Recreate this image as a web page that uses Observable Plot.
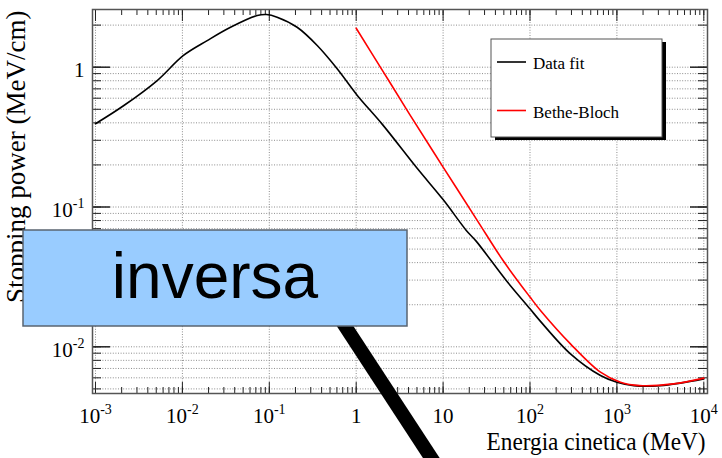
<!DOCTYPE html>
<html>
<head>
<meta charset="utf-8">
<script src="https://cdn.jsdelivr.net/npm/d3@7"></script>
<script src="https://cdn.jsdelivr.net/npm/@observablehq/plot@0.6"></script>
<style>
  html, body { margin: 0; padding: 0; background: #ffffff; }
  #chart { width: 722px; height: 458px; }
</style>
</head>
<body>
<div id="chart"></div>
<script>
// ---- Data ----
const fitEnergy = [0.001, 0.00212, 0.00513, 0.0102, 0.0193, 0.0358, 0.0726, 0.0929, 0.123, 0.209, 0.356, 0.604, 1.03, 2, 5, 10, 18.5, 24, 53.3, 100, 132, 292, 647, 1000, 1567, 3160, 5370, 10000];
const fitPower  = [0.394, 0.532, 0.803, 1.21, 1.55, 1.93, 2.34, 2.38, 2.28, 1.93, 1.43, 0.975, 0.628, 0.39, 0.19, 0.113, 0.068, 0.057, 0.0298, 0.0187, 0.0152, 0.0089, 0.00623, 0.00558, 0.00528, 0.00528, 0.0055, 0.0059];

const betheEnergy = [1, 2, 4.12, 10, 25.1, 49, 100, 132, 292, 647, 1100, 1820, 4470, 10000];
const bethePower  = [1.9, 0.95, 0.46, 0.193, 0.079, 0.0414, 0.0227, 0.0182, 0.0105, 0.00658, 0.00558, 0.00528, 0.00543, 0.00597];

const xMajor = [1e-3, 1e-2, 1e-1, 1, 10, 100, 1000, 10000];
const xTickLabels = ["10^-3", "10^-2", "10^-1", "1", "10", "10^2", "10^3", "10^4"];
const yMajor = [0.01, 0.1, 1];
const yTickLabels = ["10^-2", "10^-1", "1"];

const seriesNames = ["Data fit", "Bethe-Bloch"];
const seriesColors = ["#000000", "#ff0000"];

const xTitle = "Energia cinetica (MeV)";
const yTitle = "Stopping power (MeV/cm)";
const noteLabel = "inversa";

// ---- Build tables ----
const fitData = fitEnergy.map((e, i) => ({E: e, S: fitPower[i]}));
const betheData = betheEnergy.map((e, i) => ({E: e, S: bethePower[i]}));
const xTickData = xMajor.map((v, i) => ({v, label: xTickLabels[i]}));
const yTickData = yMajor.map((v, i) => ({v, label: yTickLabels[i]}));

const xDomain = [10 ** -3.0345, 10 ** 4.0426];
const yDomain = [10 ** -2.334, 10 ** 0.4127];

function logSubticks(domain) {
  const out = [];
  const e0 = Math.floor(Math.log10(domain[0])), e1 = Math.ceil(Math.log10(domain[1]));
  for (let e = e0; e <= e1; e++) {
    for (let m = 1; m <= 9; m++) {
      const v = m * Math.pow(10, e);
      if (v >= domain[0] && v <= domain[1]) out.push(v);
    }
  }
  return out;
}
const xAll = logSubticks(xDomain);
const yAll = logSubticks(yDomain);

const W = 722, H = 458;
const mL = 92, mR = 15, mT = 9, mB = 65;
const FW = W - mL - mR, FH = H - mT - mB;

const grid = {stroke: "#8c8c8c", strokeWidth: 1, strokeDasharray: "1,1.6"};
const tk = {stroke: "#222222", strokeWidth: 1};

const svg = Plot.plot({
  width: W, height: H,
  marginLeft: mL, marginRight: mR, marginTop: mT, marginBottom: mB,
  style: {fontFamily: "'Liberation Serif', 'Times New Roman', serif", fontSize: "21px", background: "#ffffff", color: "#000"},
  x: {type: "log", domain: xDomain, axis: null},
  y: {type: "log", domain: yDomain, axis: null},
  marks: [
    Plot.ruleX(xMajor, {...grid}),
    Plot.ruleY(yAll, {...grid}),
    // x ticks (bottom & top, inward)
    Plot.ruleX(xAll, {...tk, insetTop: FH - 6}),
    Plot.ruleX(xAll, {...tk, insetBottom: FH - 6}),
    Plot.ruleX(xMajor, {...tk, insetTop: FH - 11}),
    Plot.ruleX(xMajor, {...tk, insetBottom: FH - 12}),
    // y ticks (left & right, inward)
    Plot.ruleY(yAll, {...tk, insetRight: FW - 9}),
    Plot.ruleY(yAll, {...tk, insetLeft: FW - 9}),
    Plot.ruleY(yMajor, {...tk, strokeWidth: 1.5, insetRight: FW - 18}),
    Plot.ruleY(yMajor, {...tk, strokeWidth: 1.5, insetLeft: FW - 17}),
    // curves
    Plot.line(fitData, {x: "E", y: "S", stroke: seriesColors[0], strokeWidth: 1.6, curve: "catmull-rom"}),
    Plot.line(betheData, {x: "E", y: "S", stroke: seriesColors[1], strokeWidth: 1.6, curve: "catmull-rom"}),
    Plot.frame({stroke: "#555555", strokeWidth: 1.5}),
    // tick labels
    Plot.text(xTickData, {x: "v", text: "label", frameAnchor: "bottom", lineAnchor: "bottom", dy: 29, fontSize: 21, className: "suplabel"}),
    Plot.text(yTickData, {y: "v", text: "label", frameAnchor: "left", textAnchor: "end", dx: -8, dy: 3, fontSize: 21, className: "suplabel"}),
    // axis titles
    Plot.text([xTitle], {frameAnchor: "bottom-right", textAnchor: "end", lineAnchor: "bottom", dx: -2, dy: 56, fontSize: 25, className: "xtitle"}),
    Plot.text([yTitle], {frameAnchor: "top-left", rotate: -90, textAnchor: "end", lineAnchor: "bottom", dx: -68, dy: 1, fontSize: 27, className: "ytitle"})
  ]
});

document.getElementById("chart").appendChild(svg);

// superscript exponents in tick labels
d3.select(svg).selectAll(".suplabel text").each(function () {
  const s = this.textContent;
  const parts = s.split("^");
  if (parts.length < 2) return;
  const t = d3.select(this);
  t.text("");
  t.append("tspan").text(parts[0]);
  t.append("tspan").attr("dy", -9).attr("font-size", "14px").text(parts[1]);
});

// condensed x-axis title
d3.select(svg).selectAll(".xtitle text").each(function () {
  const tr = this.getAttribute("transform") || "";
  this.setAttribute("transform", tr + " scale(0.93,1)");
});

// ---- Legend ----
const root = d3.select(svg);
const lg = root.append("g").attr("class", "legend").attr("text-anchor", "start");
const lx = 491, ly = 39, lw = 171, lh = 98;
lg.append("rect").attr("x", lx + 4).attr("y", ly + 3).attr("width", lw).attr("height", lh).attr("fill", "#000");
lg.append("rect").attr("x", lx).attr("y", ly).attr("width", lw).attr("height", lh).attr("fill", "#fff").attr("stroke", "#555").attr("stroke-width", 1);
seriesNames.forEach((name, i) => {
  const yy = ly + 23 + i * 48.5;
  lg.append("line").attr("x1", lx + 6).attr("x2", lx + 35).attr("y1", yy).attr("y2", yy)
    .attr("stroke", seriesColors[i]).attr("stroke-width", 1.6);
  lg.append("text").attr("x", lx + 42).attr("y", yy + 7).attr("font-size", 17)
    .attr("text-anchor", "start")
    .attr("font-family", "'Liberation Serif', 'Times New Roman', serif").attr("fill", "#000").text(name);
});

// ---- Overlay annotation ----
const ov = root.append("g").attr("class", "overlay");
ov.append("line").attr("x1", 328).attr("y1", 300).attr("x2", 447).attr("y2", 482)
  .attr("stroke", "#000").attr("stroke-width", 14);
ov.append("rect").attr("x", 23).attr("y", 230).attr("width", 384).attr("height", 96)
  .attr("fill", "#99ccff").attr("stroke", "#5a6470").attr("stroke-width", 1.5);
ov.append("text").attr("x", 215).attr("y", 298).attr("text-anchor", "middle")
  .attr("font-family", "'Liberation Sans', Arial, sans-serif").attr("font-size", 64)
  .attr("fill", "#000").text(noteLabel);
</script>
</body>
</html>
